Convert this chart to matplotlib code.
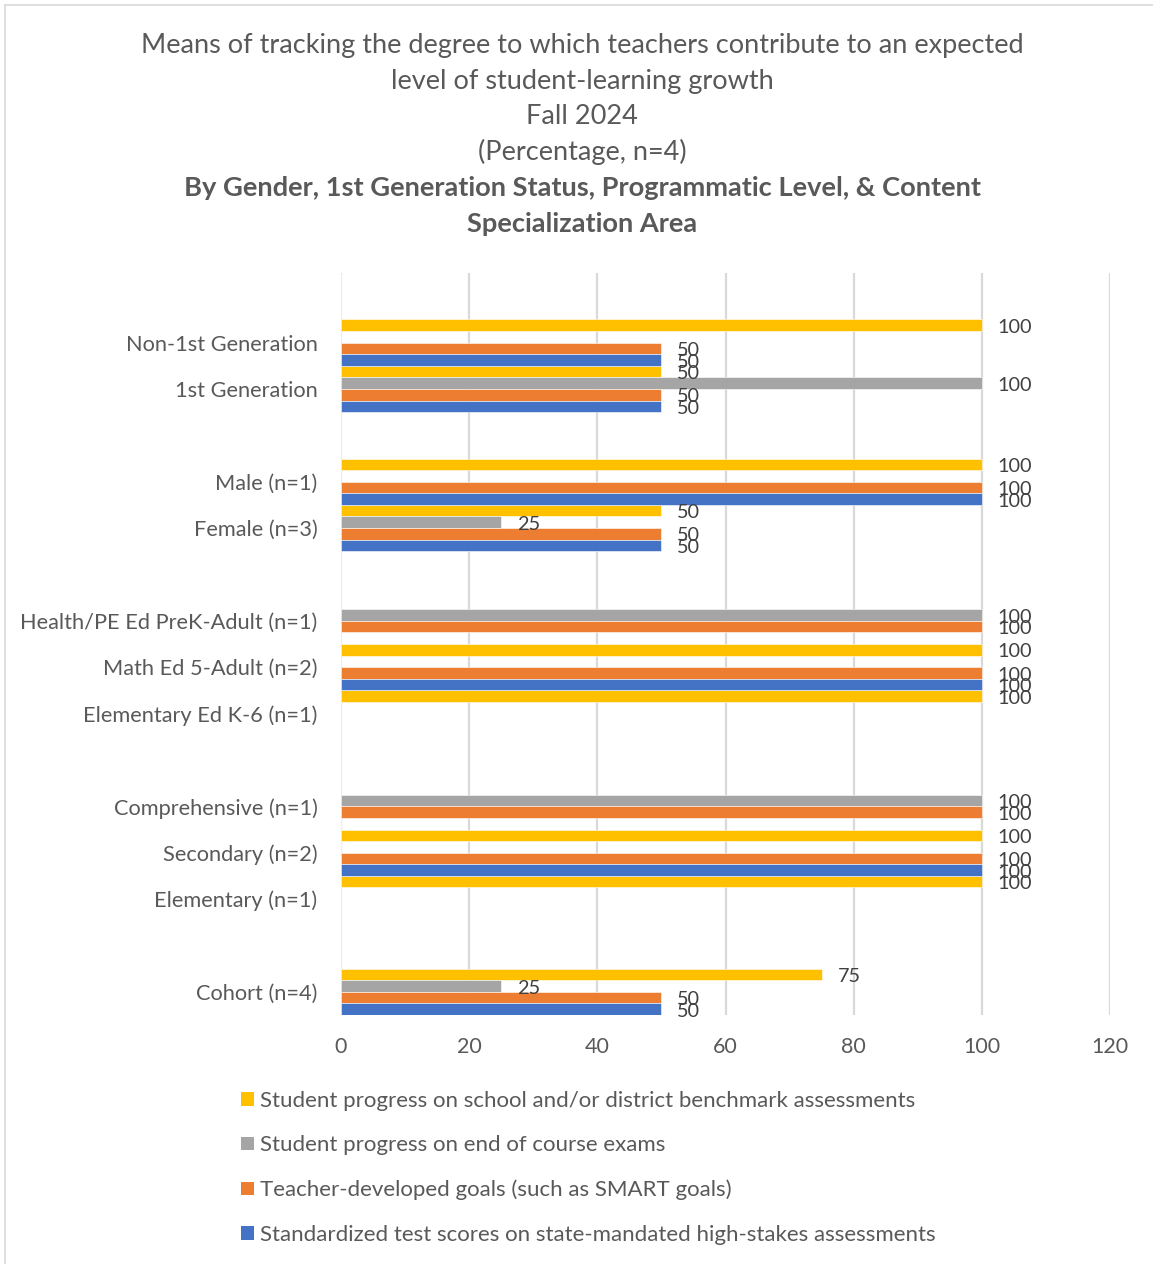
import numpy as np
import matplotlib
matplotlib.use("Agg")
import matplotlib.pyplot as plt
from matplotlib.lines import Line2D
from matplotlib.patches import Patch

nan = np.nan

# Category slots listed top to bottom; empty strings are spacer rows between groups
categories = ["", "Non-1st Generation", "1st Generation", "",
              "Male (n=1)", "Female (n=3)", "",
              "Health/PE Ed PreK-Adult (n=1)", "Math Ed 5-Adult (n=2)", "Elementary Ed K-6 (n=1)", "",
              "Comprehensive (n=1)", "Secondary (n=2)", "Elementary (n=1)", "",
              "Cohort (n=4)"]

benchmark = [nan, 100, 50, nan, 100, 50, nan, nan, 100, 100, nan, nan, 100, 100, nan, 75]
end_of_course = [nan, nan, 100, nan, nan, 25, nan, 100, nan, nan, nan, 100, nan, nan, nan, 25]
teacher_goals = [nan, 50, 50, nan, 100, 50, nan, 100, 100, nan, nan, 100, 100, nan, nan, 50]
standardized = [nan, 50, 50, nan, 100, 50, nan, nan, 100, nan, nan, nan, 100, nan, nan, 50]

series_names = ["Student progress on school and/or district benchmark assessments",
                "Student progress on end of course exams",
                "Teacher-developed goals (such as SMART goals)",
                "Standardized test scores on state-mandated high-stakes assessments"]
series_values = [benchmark, end_of_course, teacher_goals, standardized]
series_colors = ["#FFC000", "#A5A5A5", "#ED7D31", "#4472C4"]

x_ticks = [0, 20, 40, 60, 80, 100, 120]

title_lines = ["Means of tracking the degree to which teachers contribute to an expected",
               "level of student-learning growth",
               "Fall 2024",
               "(Percentage, n=4)"]
subtitle_lines = ["By Gender, 1st Generation Status, Programmatic Level, & Content",
                  "Specialization Area"]

FONT = "Lato"
TEXT = "#595959"
W, H = 1153, 1264

fig = plt.figure(figsize=(W / 100, H / 100), dpi=100)
fig.patch.set_facecolor("white")

def fx(px):
    return px / W

def fy(py):
    return 1 - py / H

ax = fig.add_axes([fx(341), fy(1015), fx(1110) - fx(341), fy(273) - fy(1015)])

n_cat = len(categories)
n_ser = len(series_values)
bar_h = 1.0 / n_ser
# slot 0 is the top row; y increases upward so reverse
centers = np.arange(n_cat)[::-1] + 0.5

for s, (vals, col) in enumerate(zip(series_values, series_colors)):
    y = centers + 0.5 - bar_h * (s + 0.5)
    vals = np.array(vals, dtype=float)
    ax.barh(y, np.nan_to_num(vals), height=bar_h, color=col,
            edgecolor="white", linewidth=0.4, zorder=3)
    for yy, v in zip(y, vals):
        if not np.isnan(v):
            ax.annotate(f"{v:g}", xy=(v, yy), xytext=(11.5, -1.5), textcoords="offset points",
                        ha="left", va="center", fontsize=14.3, color="#404040",
                        family=FONT, zorder=4)

ax.set_xlim(0, 120)
ax.set_ylim(0, n_cat)
ax.set_xticks(x_ticks)
ax.set_xticklabels([str(t) for t in x_ticks], family=FONT, fontsize=15.5, color=TEXT)
ax.set_yticks(centers)
ax.set_yticklabels(categories, family=FONT, fontsize=15.7, color=TEXT)
ax.tick_params(axis="both", length=0)
ax.tick_params(axis="x", pad=16)
ax.tick_params(axis="y", pad=17)
ax.grid(axis="x", color="#D9D9D9", linewidth=1.6, zorder=0)
for sp in ax.spines.values():
    sp.set_visible(False)
ax.set_axisbelow(True)

# titles
title_y = [45, 81, 117, 152]
for line, yy in zip(title_lines, title_y):
    fig.text(fx(582), fy(yy), line, ha="center", va="center", family=FONT,
             fontsize=19.5, color=TEXT)
for line, yy in zip(subtitle_lines, [188, 224]):
    fig.text(fx(582), fy(yy), line, ha="center", va="center", family=FONT,
             fontsize=19.6, fontweight="bold", color=TEXT)

# legend
handles = [Patch(facecolor=c, edgecolor="none") for c in series_colors]
leg = fig.legend(handles, series_names, loc="upper left",
                 bbox_to_anchor=(fx(232), fy(1082)), frameon=False,
                 prop={"family": FONT, "size": 16}, labelcolor=TEXT,
                 handlelength=0.58, handleheight=0.58, handletextpad=0.26,
                 labelspacing=1.1, borderaxespad=0)

# chart frame (top and left edges visible)
fig.add_artist(Line2D([fx(5), 1], [fy(5), fy(5)], color="#D9D9D9", linewidth=1.2))
fig.add_artist(Line2D([fx(5), fx(5)], [0, fy(5)], color="#D9D9D9", linewidth=1.2))

fig.savefig("out.png", dpi=100, facecolor="white")
